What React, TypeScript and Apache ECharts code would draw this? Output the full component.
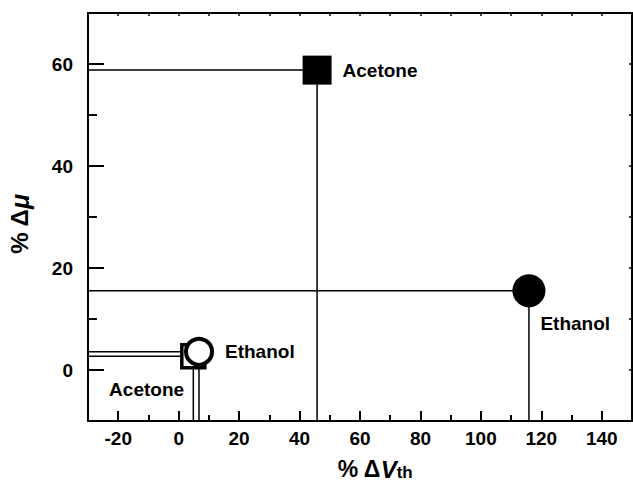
import React, { useEffect, useRef } from "react";
import * as echarts from "echarts";

const X_MIN = -30;
const X_MAX = 150;
const Y_MIN = -10;
const Y_MAX = 70;

// [ΔVth %, Δμ %]
const acetoneFilled = [45.8, 58.8];
const ethanolFilled = [115.9, 15.55];
const acetoneOpen = [4.85, 2.7];
const ethanolOpen = [6.73, 3.57];

const labelAcetone = "Acetone";
const labelEthanol = "Ethanol";

const FONT = "Liberation Sans, Arial, Helvetica, sans-serif";

function dropLine(p: number[]) {
  return [
    [X_MIN, p[1]],
    [p[0], p[1]],
    [p[0], Y_MIN],
  ];
}

export default function App() {
  const ref = useRef<HTMLDivElement>(null);
  useEffect(() => {
    if (!ref.current) return;
    const chart = echarts.init(ref.current, undefined, { renderer: "svg" });
    const lineStyle = { color: "#000", width: 1.5, opacity: 1 };
    const labelBase = {
      show: true,
      color: "#000",
      fontFamily: FONT,
      fontWeight: "bold" as const,
      fontSize: 19,
    };
    const axisCommon = {
      axisLine: { show: true, onZero: false, lineStyle: { color: "#000", width: 2 } },
      splitLine: { show: false },
    };
    chart.setOption({
      animation: false,
      backgroundColor: "#fff",
      grid: {
        left: 88,
        right: 1,
        top: 13,
        bottom: 62,
        containLabel: false,
        outerBoundsMode: "none",
      },
      xAxis: [
        {
          type: "value",
          position: "bottom",
          min: X_MIN,
          max: X_MAX,
          splitNumber: 9,
          ...axisCommon,
          axisTick: { show: true, inside: true, length: 10, lineStyle: { color: "#000", width: 2 } },
          minorTick: { show: true, splitNumber: 2, length: 6, lineStyle: { color: "#000", width: 2 } },
          axisLabel: {
            showMinLabel: false,
            showMaxLabel: false,
            margin: 8,
            color: "#000",
            fontFamily: FONT,
            fontWeight: "bold",
            fontSize: 19,
          },
          name: "{a|% Δ}{v|V}{s|th}",
          nameLocation: "middle",
          nameGap: 36,
          nameTextStyle: {
            padding: [0, 0, 0, 30],
            rich: {
              a: { fontFamily: FONT, fontWeight: "bold", fontSize: 23, color: "#000" },
              v: { fontFamily: FONT, fontWeight: "bold", fontStyle: "italic", fontSize: 24, color: "#000" },
              s: { fontFamily: FONT, fontWeight: "bold", fontSize: 17, color: "#000", padding: [6, 0, 0, 0] },
            },
          },
        },
        {
          type: "value",
          position: "top",
          min: X_MIN,
          max: X_MAX,
          splitNumber: 18,
          ...axisCommon,
          axisTick: { show: true, inside: true, length: 3, lineStyle: { color: "#000", width: 1.5 } },
          axisLabel: { show: false },
        },
      ],
      yAxis: [
        {
          type: "value",
          position: "left",
          min: Y_MIN,
          max: Y_MAX,
          splitNumber: 4,
          ...axisCommon,
          axisTick: { show: true, inside: true, length: 16, lineStyle: { color: "#000", width: 2 } },
          minorTick: { show: true, splitNumber: 2, length: 9, lineStyle: { color: "#000", width: 2 } },
          axisLabel: {
            showMinLabel: false,
            showMaxLabel: false,
            margin: 15,
            color: "#000",
            fontFamily: FONT,
            fontWeight: "bold",
            fontSize: 19,
          },
          name: "{a|% Δ}{m|μ}",
          nameLocation: "middle",
          nameRotate: 90,
          nameGap: 56,
          nameTextStyle: {
            padding: [0, 14, 0, 0],
            rich: {
              a: { fontFamily: FONT, fontWeight: "bold", fontSize: 24, color: "#000" },
              m: { fontFamily: FONT, fontWeight: "bold", fontStyle: "italic", fontSize: 25, color: "#000" },
            },
          },
        },
        {
          type: "value",
          position: "right",
          min: Y_MIN,
          max: Y_MAX,
          splitNumber: 8,
          ...axisCommon,
          axisTick: { show: true, inside: true, length: 3, lineStyle: { color: "#000", width: 1.5 } },
          axisLabel: { show: false },
        },
      ],
      series: [
        ...[acetoneFilled, ethanolFilled, acetoneOpen, ethanolOpen].map((p) => ({
          type: "line",
          data: dropLine(p),
          symbol: "none",
          lineStyle,
          z: 1,
          silent: true,
        })),
        {
          type: "scatter",
          z: 3,
          data: [acetoneFilled],
          symbol: "rect",
          symbolSize: 29,
          itemStyle: { color: "#000", opacity: 1 },
          label: { ...labelBase, formatter: labelAcetone, position: "right", distance: 11 },
        },
        {
          type: "scatter",
          z: 3,
          data: [ethanolFilled],
          symbol: "circle",
          symbolSize: 33,
          itemStyle: { color: "#000", opacity: 1 },
          label: { ...labelBase, formatter: labelEthanol, position: "right", distance: 5, offset: [-10, 33] },
        },
        {
          type: "scatter",
          z: 3,
          data: [acetoneOpen],
          symbol: "rect",
          symbolSize: 23,
          itemStyle: { color: "#fff", borderColor: "#000", borderWidth: 3.5, opacity: 1 },
          label: { ...labelBase, formatter: labelAcetone, position: "left", distance: 5, offset: [9, 33] },
        },
        {
          type: "scatter",
          z: 4,
          data: [ethanolOpen],
          symbol: "circle",
          symbolSize: 26,
          itemStyle: { color: "#fff", borderColor: "#000", borderWidth: 4, opacity: 1 },
          label: { ...labelBase, formatter: labelEthanol, position: "right", distance: 11 },
        },
      ],
    });
    return () => chart.dispose();
  }, []);
  return (
    <div
      ref={ref}
      style={{ position: "fixed", left: 0, top: 0, width: 633, height: 483 }}
    />
  );
}
